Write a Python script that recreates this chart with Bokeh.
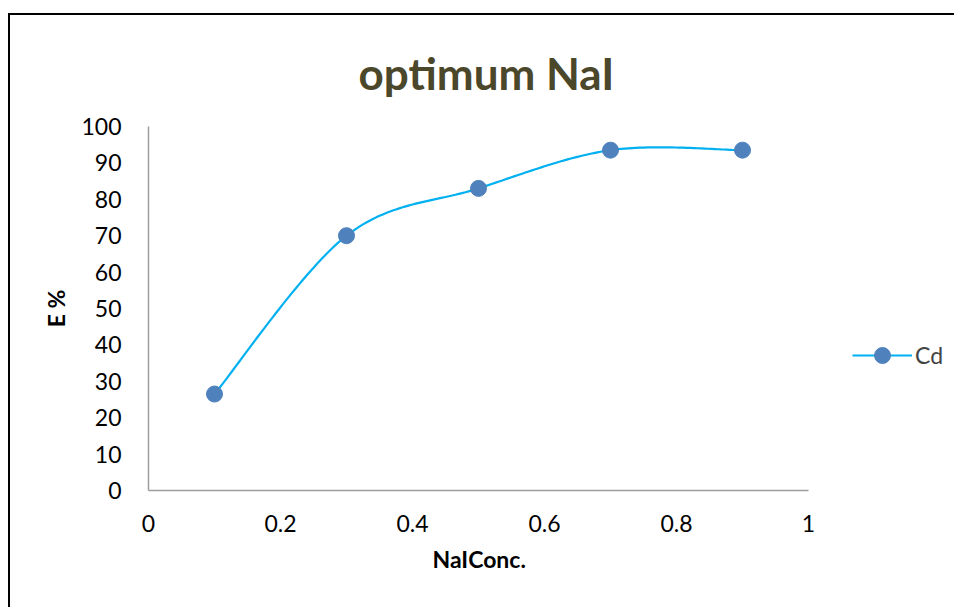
import numpy as np
from bokeh.plotting import figure
from bokeh.models import Legend, LegendItem, Range1d, FixedTicker, Title
from bokeh.embed import file_html
from bokeh.resources import INLINE

# data
nai_conc = [0.1, 0.3, 0.5, 0.7, 0.9]
e_percent = [26.5, 70.0, 83.0, 93.5, 93.5]
x_ticks = [0, 0.2, 0.4, 0.6, 0.8, 1]
y_ticks = [0, 10, 20, 30, 40, 50, 60, 70, 80, 90, 100]
series_name = "Cd"
title_text = "optimum NaI"
x_label = "NaIConc."
y_label = "E %"

FONT = "Lato"
W, H = 946, 594
FL, FR, FT, FB = 138, 0, 111, 119   # borders around frame
PX_X = 660.0   # pixels for one x unit (axis 0..1)
PX_Y = 364.0   # pixels for 0..100 on y
x_end = (W - FL - FR) / PX_X

# smooth curve (Catmull-Rom in screen space, like spreadsheet smoothing)
sx = np.array(nai_conc) * PX_X
sy = np.array(e_percent) / 100.0 * PX_Y
pts = np.column_stack([sx, sy])
curve = []
n = len(pts)
for i in range(n - 1):
    p0 = pts[i - 1] if i > 0 else pts[i]
    p1 = pts[i]
    p2 = pts[i + 1]
    p3 = pts[i + 2] if i + 2 < n else pts[i + 1]
    c1 = p1 + (p2 - p0) / 6.0
    c2 = p2 - (p3 - p1) / 6.0
    for t in np.linspace(0, 1, 40, endpoint=(i == n - 2)):
        b = ((1 - t) ** 3) * p1 + 3 * ((1 - t) ** 2) * t * c1 + 3 * (1 - t) * t ** 2 * c2 + t ** 3 * p2
        curve.append(b)
curve = np.array(curve)
cx = curve[:, 0] / PX_X
cy = curve[:, 1] / PX_Y * 100.0

p = figure(width=W, height=H, output_backend="svg", toolbar_location=None,
           x_range=Range1d(0, x_end), y_range=Range1d(0, 100),
           min_border_left=FL, min_border_right=FR, min_border_top=FT, min_border_bottom=FB)
p.styles = {"border-left": "2px solid black", "border-top": "2px solid black",
            "margin-top": "13px", "margin-left": "8px"}

p.title = Title(text=title_text, align="left", text_font=FONT, text_font_size="44px",
                text_font_style="bold", text_color="#4b472b", standoff=56, offset=210)

p.grid.visible = False
p.outline_line_color = None
p.background_fill_color = "white"
p.border_fill_color = "white"

for ax in (p.xaxis[0], p.yaxis[0]):
    ax.axis_line_color = "#9e9e9e"
    ax.axis_line_width = 1.5
    ax.major_tick_line_color = None
    ax.minor_tick_line_color = None
    ax.major_label_text_font = FONT
    ax.major_label_text_font_size = "23px"
    ax.major_label_text_color = "black"
    ax.axis_label_text_font = FONT
    ax.axis_label_text_font_size = "23px"
    ax.axis_label_text_font_style = "bold"
    ax.axis_label_text_color = "black"

p.xaxis.ticker = FixedTicker(ticks=x_ticks)
p.yaxis.ticker = FixedTicker(ticks=y_ticks)
p.xaxis.bounds = (0, 1)
p.xaxis.major_label_overrides = {0: "0", 1: "1"}
p.yaxis.axis_label = y_label
p.xaxis.major_label_standoff = 18
p.yaxis.major_label_standoff = 21
p.yaxis.axis_label_standoff = 8

xlab = Title(text=x_label, align="left", text_font=FONT, text_font_size="23px",
             text_font_style="bold", text_color="black", offset=284, standoff=17)
p.add_layout(xlab, "below")

line_r = p.line(cx, cy, line_color="#00b0f0", line_width=2.2)
pts_r = p.scatter(nai_conc, e_percent, size=16, fill_color="#4f81bd", line_color="#4f81bd")

legend = Legend(items=[LegendItem(label=series_name, renderers=[line_r, pts_r])],
                location=(704, 115), glyph_width=60, glyph_height=40, label_standoff=3,
                padding=0, margin=0, border_line_color=None, background_fill_alpha=0,
                label_text_font=FONT, label_text_font_size="23px", label_height=40)
p.add_layout(legend, "center")

open("out.html", "w").write(file_html(p, INLINE))
